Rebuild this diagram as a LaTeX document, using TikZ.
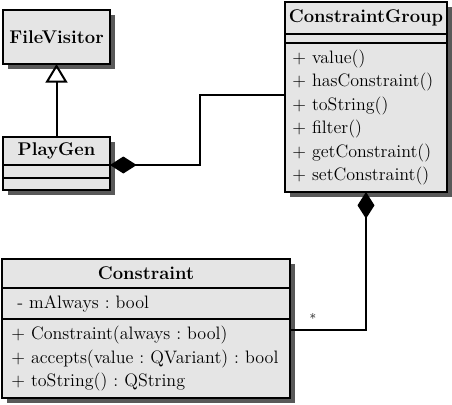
\documentclass[tikz,border=0pt]{standalone}
\usetikzlibrary{arrows.meta, positioning, shadows}
\frenchspacing

\tikzset{
  part/.style={draw, line width=0.9pt, fill=black!10, inner sep=0pt, outer sep=0pt, anchor=north west,
    drop shadow={opacity=1, fill=black!65, shadow xshift=3.6pt, shadow yshift=-3.6pt}},
  title/.style={part, font=\fontsize{13.8}{16}\selectfont\bfseries},
  members/.style={part, font=\fontsize{13.5}{17.6}\selectfont, align=left, inner xsep=5.5pt},
  link/.style={line width=1.5pt},
  comp/.style={link, -{Diamond[length=20pt, width=12.75pt]}},
  inherit/.style={link, -{Triangle[open, length=14pt, width=16.5pt]}},
}

\begin{document}
\begin{tikzpicture}[x=0.75pt, y=-0.75pt]
    \useasboundingbox (0,0) rectangle (452,404);

    % FileVisitor and PlayGen
    \node[title, minimum width=80.25pt, minimum height=40.5pt] (fv) at (3,10) {FileVisitor};
    \node[title, minimum width=80.25pt, minimum height=21pt] (pgT) at (3,137) {PlayGen};
    \node[part, minimum width=80.25pt, minimum height=9.75pt] (pgA) at (3,165) {};
    \node[part, minimum width=80.25pt, minimum height=9pt] (pgO) at (3,178) {};

    % ConstraintGroup
    \node[title, minimum width=121.5pt, minimum height=24pt] (cgT) at (285,2) {ConstraintGroup};
    \node[part, minimum width=121.5pt, minimum height=6.75pt] (cgA) at (285,34) {};
    \node[members, minimum width=121.5pt, text width=110.5pt, minimum height=111.75pt] (cgM) at (285,43)
        {+ value()\\+ hasConstraint()\\+ toString()\\+ filter()\\+ getConstraint()\\+ setConstraint()};

    % Constraint
    \node[title, minimum width=216pt, minimum height=21.75pt] (crT) at (2,259) {Constraint};
    \node[members, inner xsep=7pt, minimum width=216pt, text width=202pt, minimum height=23.25pt] (crA) at (2,288) {\ - mAlways : bool};
    \node[members, inner xsep=7pt, minimum width=216pt, text width=202pt, minimum height=59.25pt] (crM) at (2,319)
        {+ Constraint(always : bool)\\+ accepts(value : QVariant) : bool\\+ toString() : QString};

    % relations
    \draw[inherit] (pgT.north) -- (fv.south);
    \draw[comp] (cgM.west |- 0,95) -| (200,0 |- pgT.south east) -- (pgT.south east);
    \draw[comp] (crM.north east |- 0,330) -| (cgM.south);
    \node[font=\fontsize{10}{10}\selectfont] (mult) at (313,318) {*};
\end{tikzpicture}
\end{document}
